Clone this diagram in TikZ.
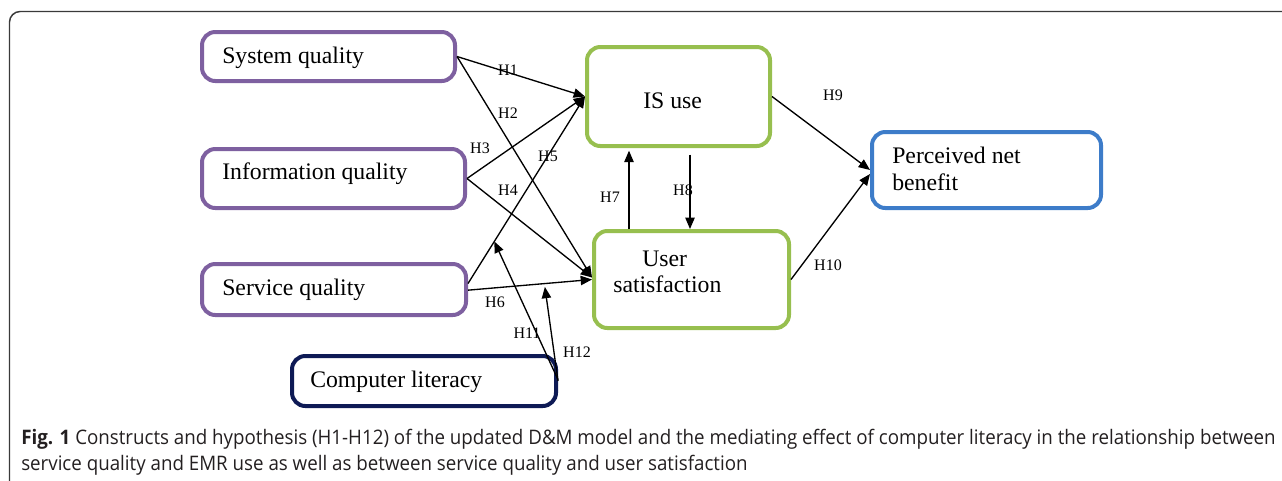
\documentclass[tikz,border=0pt]{standalone}
\usepackage{fontspec}
\setmainfont{Liberation Serif}
\newfontfamily\capfont[FakeStretch=0.937]{Open Sans}
\usetikzlibrary{arrows.meta,calc}
\definecolor{bpurple}{HTML}{7E60A0}
\definecolor{bgreen}{HTML}{97BF4F}
\definecolor{bblue}{HTML}{3D7CC9}
\definecolor{bnavy}{HTML}{0E1A55}
\definecolor{framec}{HTML}{3A3A3A}
\definecolor{capc}{HTML}{231F20}
\begin{document}
\begin{tikzpicture}[x=0.75pt,y=-0.75pt,
  box/.style={draw, line width=3pt, rounded corners=10pt, inner sep=0pt, fill=white},
  lbl/.style={font=\fontsize{17.8}{21}\selectfont, anchor=base west, inner sep=0pt},
  hl/.style={font=\fontsize{12}{14}\selectfont, inner sep=0pt},
  arr/.style={-{Triangle[length=8.5pt,width=7pt]}, line width=1pt},
  capt/.style={anchor=base west, inner sep=0pt, text=capc, font=\capfont\fontsize{15}{18}\selectfont}]
\useasboundingbox (0,0) rectangle (1282,480);
% outer frame
\draw[framec, line width=1.1pt, rounded corners=8pt] (9.5,482) -- (9.5,11.5) -- (1284,11.5);

% boxes
\node[box, draw=bpurple, minimum width=189.75pt, minimum height=36.75pt] (sysq) at (328.5,56.5) {};
\node[box, draw=bpurple, minimum width=197.25pt, minimum height=44.25pt] (infq) at (333.5,178.5) {};
\node[box, draw=bpurple, minimum width=198pt, minimum height=38.25pt] (servq) at (334,289.5) {};
\node[box, draw=bnavy, minimum width=198pt, minimum height=37.5pt] (comp) at (424,381) {};
\node[box, draw=bgreen, minimum width=137.25pt, minimum height=74.25pt] (isuse) at (678.5,96.5) {};
\node[box, draw=bgreen, minimum width=146.25pt, minimum height=72.75pt] (usat) at (691.5,279.5) {};
\node[box, draw=bblue, minimum width=171.75pt, minimum height=57pt] (pnb) at (986.5,170) {};

% box texts
\node[lbl] (sysqT) at (222,63) {System quality};
\node[lbl] (infqT) at (222,179) {Information quality};
\node[lbl] (servqT) at (222,295) {Service quality};
\node[lbl] (compT) at (310,387) {Computer literacy};
\node[lbl] (isuseT) at (643,108) {IS use};
\node[lbl] (usatT1) at (642,266) {User};
\node[lbl] (usatT2) at (613,292) {satisfaction};
\node[lbl] (pnbT1) at (892,163) {Perceived net};
\node[lbl] (pnbT2) at (892,190) {benefit};

% helper coordinates
\coordinate (s5) at ([yshift=4.5pt]servq.east);
\coordinate (s6) at ([yshift=-0.5pt]servq.east);
\coordinate (m5) at ($(s5)!0.225!(isuse.west)$);
\coordinate (m6) at ($(s6)!0.62!(usat.west)$);
\coordinate (c7) at (629,0);
\coordinate (c8) at (690,0);

% connectors
\draw[arr] (sysq.east) -- (isuse.west);
\draw[arr] (sysq.east) -- ([yshift=1.5pt]usat.west);
\draw[arr] (infq.east) -- (isuse.west);
\draw[arr] (infq.east) -- ([yshift=1.5pt]usat.west);
\draw[arr] (s5) -- (isuse.west);
\draw[arr] (s6) -- (usat.west);
\draw[arr] ([yshift=1pt]comp.east) -- (m5);
\draw[arr] (comp.east) -- ([yshift=-2.5pt]m6);
\draw[arr, shorten >=2pt] (usat.north -| c7) -- (isuse.south -| c7);
\draw[arr, shorten <=5pt] (isuse.south -| c8) -- (usat.north -| c8);
\draw[arr] (isuse.east) -- (pnb.west);
\draw[arr] (usat.east) -- ([yshift=-3pt]pnb.west);

% hypothesis labels
\node[hl] (h1) at (508,70) {H1};
\node[hl] (h2) at (508,113) {H2};
\node[hl] (h3) at (480,148) {H3};
\node[hl] (h4) at (508,190) {H4};
\node[hl] (h5) at (548,156) {H5};
\node[hl] (h6) at (495,302) {H6};
\node[hl] (h7) at (610,197) {H7};
\node[hl] (h8) at (683,190) {H8};
\node[hl] (h9) at (833,95) {H9};
\node[hl] (h10) at (828,265) {H10};
\node[hl] (h11) at (527,333) {H11};
\node[hl] (h12) at (577,352) {H12};

% caption
\node[capt] (cap1) at (21,444) {\textbf{Fig. 1} Constructs and hypothesis (H1-H12) of the updated D\&M model and the mediating effect of computer literacy in the relationship between};
\node[capt] (cap2) at (21,470) {service quality and EMR use as well as between service quality and user satisfaction};
\end{tikzpicture}
\end{document}
